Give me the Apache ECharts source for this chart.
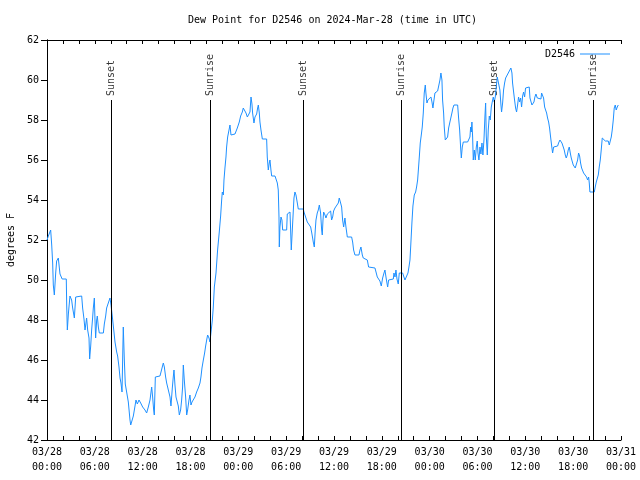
<!DOCTYPE html>
<html><head><meta charset="utf-8">
<script src="https://cdn.jsdelivr.net/npm/echarts@6/dist/echarts.min.js"></script>
<style>html,body{margin:0;padding:0;background:#fff}#c{width:640px;height:480px}</style>
</head><body><div id="c"></div>
<script>
// hours since 2024-03-28 00:00 UTC
const hours = [0,0.17,0.46,0.59,0.71,0.79,0.92,1.09,1.21,1.42,1.51,1.63,1.84,1.9,2.42,2.47,2.55,2.68,2.88,3.09,3.22,3.43,3.6,3.72,4.35,4.47,4.64,4.77,4.97,5.1,5.27,5.35,5.48,5.6,5.73,5.81,5.94,6.02,6.1,6.23,6.31,6.44,6.56,7.07,7.19,7.36,7.48,7.9,8.03,8.24,8.4,8.53,8.74,8.86,9.03,9.16,9.28,9.41,9.57,9.7,9.82,9.99,10.2,10.41,10.5,10.62,10.83,11.04,11.16,11.33,11.54,11.75,12.0,12.29,12.5,12.71,12.92,13.13,13.25,13.38,13.46,13.59,13.75,14.17,14.3,14.46,14.59,14.72,14.88,15.01,15.22,15.43,15.55,15.72,15.84,15.93,16.05,16.18,16.35,16.47,16.6,16.76,16.89,17.01,17.1,17.22,17.39,17.52,17.64,17.81,17.93,18.06,18.19,18.35,18.56,18.77,18.98,19.19,19.31,19.44,19.61,19.77,19.9,20.03,20.15,20.32,20.44,20.61,20.74,20.86,20.99,21.2,21.4,21.61,
21.78,21.91,21.99,22.12,22.2,22.32,22.45,22.53,22.66,22.83,22.95,23.08,23.24,23.58,23.7,23.87,24.12,24.29,24.5,24.62,24.83,24.96,25.13,25.25,25.46,25.59,25.71,25.79,25.96,26.09,26.3,26.42,26.51,26.63,26.71,26.84,27.01,27.55,27.63,27.76,27.88,27.97,28.09,28.18,28.6,28.72,28.89,29.01,29.1,29.14,29.22,29.35,29.47,29.56,30.06,30.14,30.27,30.48,30.56,30.64,30.81,30.98,31.1,31.23,31.4,31.52,32.15,
32.23,32.44,32.65,32.86,33.07,33.19,33.32,33.4,33.53,33.65,33.74,33.9,34.03,34.16,34.32,34.45,34.53,34.62,34.7,34.87,34.99,35.16,35.41,35.58,35.7,35.83,35.95,36.12,36.33,36.54,36.66,36.83,36.96,37.08,37.21,37.37,37.5,37.67,38.21,38.34,38.46,38.63,39.13,39.26,39.38,39.55,39.67,39.88,40.18,40.34,41.14,41.26,41.43,41.6,41.76,41.93,42.1,42.27,42.39,42.52,42.6,42.73,42.85,43.44,43.52,43.65,43.77,43.9,44.06,44.19,44.61,44.77,44.9,45.11,45.28,45.4,45.53,45.65,45.78,45.9,46.07,46.24,46.36,46.49,46.61,
46.7,46.82,46.95,47.07,47.2,47.32,47.45,47.53,47.66,47.78,47.91,48.16,48.29,48.41,48.54,48.66,48.79,49.0,49.21,49.29,49.41,49.54,49.62,49.75,49.83,49.96,50.13,50.25,50.38,50.54,50.67,50.79,50.92,51.05,51.51,51.63,51.76,51.88,51.97,52.09,52.22,52.76,52.88,53.05,53.14,53.22,53.3,53.39,53.47,53.6,53.72,53.85,53.97,54.06,54.18,54.31,
54.43,54.56,54.68,54.81,54.93,55.02,55.1,55.23,55.35,55.48,55.6,55.73,55.85,55.98,56.1,56.23,56.35,56.48,56.61,56.69,56.81,56.94,57.02,57.15,57.27,57.4,57.53,57.65,57.86,58.07,58.19,58.32,58.4,58.53,58.65,58.78,58.9,59.03,59.15,59.28,59.41,59.53,59.66,59.78,59.91,60.03,60.16,60.49,60.58,60.7,60.83,60.95,61.08,61.2,61.33,61.5,61.96,62.04,62.17,62.29,62.42,62.54,62.67,62.79,62.92,63.04,63.17,63.29,63.42,63.55,64.05,64.17,64.34,64.46,64.59,64.76,64.88,65.01,65.13,65.26,65.38,65.51,65.64,65.76,65.89,66.01,66.14,66.26,66.43,66.56,66.68,66.81,66.93,67.06,67.18,67.31,67.43,67.56,67.68,67.81,67.94,68.02,68.1,68.65,68.77,68.9,69.02,69.15,69.27,69.4,69.52,69.65,69.77,70.03,70.15,70.28,70.4,70.53,70.65,70.78,70.9,71.03,71.15,71.28,71.4,71.53,71.66];

const dewF = [52.0,52.2,52.5,51.75,50.85,49.75,49.25,50.35,50.95,51.1,50.75,50.3,50.3,50.05,50.05,48.75,47.5,48.3,49.2,49.0,48.6,48.1,49.15,49.2,49.2,48.6,48.05,47.5,48.1,47.5,47.1,46.05,46.7,47.5,48.15,48.6,49.1,48.0,47.1,48.0,48.2,47.65,47.35,47.35,47.8,48.2,48.6,49.1,48.75,48.0,47.4,46.9,46.4,46.2,45.65,45.1,44.85,44.4,47.65,46.0,44.8,44.4,43.9,43.0,42.75,42.75,43.2,43.7,44.0,43.8,44.0,43.85,43.65,43.5,43.35,43.65,44.0,44.65,44.15,43.5,43.25,45.15,45.2,45.2,45.4,45.65,45.85,45.65,45.15,44.85,44.5,44.15,43.7,44.6,45.15,45.5,44.75,44.15,44.15,43.7,43.25,43.5,44.0,44.65,45.75,45.0,44.15,43.25,43.5,44.0,44.25,43.75,43.9,44.0,44.15,44.4,44.6,44.85,45.15,45.6,46.0,46.35,46.7,47.0,47.25,47.1,46.9,46.9,48.0,48.65,49.65,50.35,51.5,52.4,
53.2,54.0,54.4,54.25,55.0,55.6,56.15,56.65,57.15,57.5,57.75,57.25,57.3,57.3,57.4,57.6,57.9,58.2,58.4,58.6,58.7,58.35,58.15,58.25,58.4,59.15,58.8,58.35,57.85,58.15,58.3,58.6,58.75,58.35,57.9,57.5,57.05,57.05,56.15,55.5,55.85,56.0,55.5,55.2,55.2,55.3,54.85,54.5,53.15,51.65,52.65,53.15,53.0,52.5,52.5,53.3,53.4,53.4,52.5,51.5,52.8,54.1,54.4,54.25,53.85,53.55,53.55,
53.4,53.15,52.9,52.85,52.65,52.4,52.1,51.9,51.65,52.5,53.0,53.35,53.5,53.75,53.35,52.5,52.25,53.0,53.4,53.25,53.1,53.3,53.4,53.45,53.0,53.15,53.45,53.6,53.65,53.85,54.1,53.85,53.65,53.0,52.65,53.1,52.65,52.15,52.15,51.9,51.5,51.25,51.25,51.5,51.65,51.25,51.1,51.05,51.0,50.65,50.6,50.5,50.15,50.05,49.95,49.7,50.1,50.35,50.5,50.15,49.95,49.65,50.0,50.05,50.35,50.15,50.5,50.05,49.8,50.35,50.35,50.15,50.0,50.05,50.35,50.65,51.0,51.9,52.9,53.7,54.25,54.4,54.65,55.0,55.65,
56.15,56.85,57.25,57.65,58.35,59.35,59.75,59.35,58.85,59.0,59.1,59.15,58.9,58.6,59.0,59.35,59.4,59.45,59.5,60.0,60.35,60.0,59.0,58.35,57.65,57.0,56.95,57.15,57.6,57.9,57.9,58.35,58.6,58.75,58.75,58.1,57.5,56.65,56.1,56.65,56.9,56.9,57.0,57.15,57.65,57.4,57.9,57.15,56.0,56.5,56.0,56.65,56.95,56.35,56.0,56.65,
56.3,56.85,56.25,57.0,58.15,58.85,57.2,56.25,57.5,58.2,58.0,58.65,58.9,59.15,58.9,59.15,59.65,60.15,60.25,60.15,59.5,58.75,58.4,58.85,59.5,59.85,60.1,60.15,60.35,60.4,60.6,60.35,59.85,59.4,59.0,58.6,58.4,58.75,59.15,58.9,59.1,58.65,59.2,59.4,59.15,59.6,59.65,59.65,59.1,59.0,58.75,58.65,58.9,59.15,59.3,59.1,59.05,59.35,59.4,59.1,58.65,58.5,58.35,58.1,57.9,57.6,57.15,56.75,56.35,56.65,56.7,56.85,57.0,57.05,56.85,56.65,56.5,56.25,56.1,56.25,56.5,56.65,56.35,56.1,56.0,55.75,55.65,55.6,55.5,56.0,56.35,56.2,55.85,55.6,55.65,55.35,55.25,55.4,55.15,55.0,55.15,54.85,54.4,54.4,54.65,54.9,55.0,55.25,55.65,56.0,56.5,57.1,57.0,56.95,57.0,57.05,56.95,56.75,56.95,57.15,57.5,58.0,58.6,58.75,58.5,58.65,58.75];

const eventHours = [8.03, 20.48, 32.15, 44.45, 56.1, 68.53];
const eventNames = ['Sunset', 'Sunrise', 'Sunset', 'Sunrise', 'Sunset', 'Sunrise'];
const xTickLabels = ['03/28\n00:00','03/28\n06:00','03/28\n12:00','03/28\n18:00','03/29\n00:00','03/29\n06:00','03/29\n12:00','03/29\n18:00','03/30\n00:00','03/30\n06:00','03/30\n12:00','03/30\n18:00','03/31\n00:00'];
const seriesName = 'D2546';
const titleText = 'Dew Point for D2546 on 2024-Mar-28 (time in UTC)';
const yAxisName = 'degrees F';

const FONT = 'DejaVu Sans Mono';
const txt = {fontFamily: FONT, fontSize: 10, color: '#000'};
const blk = {color: '#000', width: 1};

const chart = echarts.init(document.getElementById('c'), null, {renderer: 'canvas'});
chart.setOption({
  animation: false,
  backgroundColor: '#fff',
  title: {text: titleText, left: 183, top: 10, textStyle: Object.assign({fontWeight: 'normal'}, txt)},
  legend: {
    data: [{name: seriesName, icon: 'rect'}], right: 25, top: 44, align: 'right',
    itemWidth: 30, itemHeight: 1, textStyle: txt
  },
  grid: {left: 47, right: 19, top: 40, bottom: 40, containLabel: false, outerBoundsMode: 'none'},
  xAxis: [{
    type: 'value', min: 0, max: 72, interval: 2, position: 'bottom',
    axisLine: {show: true, lineStyle: blk},
    axisTick: {show: true, inside: true, length: 4, lineStyle: blk},
    axisLabel: Object.assign({
      margin: 5, lineHeight: 15, showMinLabel: true, showMaxLabel: true, hideOverlap: false,
      formatter: v => (Math.round(v) % 6 === 0 ? xTickLabels[Math.round(v) / 6] : '')
    }, txt),
    splitLine: {show: false}
  }, {
    type: 'value', min: 0, max: 72, interval: 2, position: 'top',
    axisLine: {show: true, lineStyle: blk},
    axisTick: {show: true, inside: true, length: 4, lineStyle: blk},
    axisLabel: {show: false}, splitLine: {show: false}
  }],
  yAxis: [{
    type: 'value', min: 42, max: 62, interval: 2, position: 'left',
    name: yAxisName, nameLocation: 'middle', nameGap: 31, nameRotate: 90,
    nameTextStyle: txt,
    axisLine: {show: true, lineStyle: blk},
    axisTick: {show: true, inside: false, length: 6, lineStyle: blk},
    axisLabel: Object.assign({margin: 8}, txt),
    splitLine: {show: false}
  }, {
    type: 'value', min: 42, max: 62, interval: 2, position: 'right',
    axisLine: {show: true, lineStyle: blk},
    axisTick: {show: true, inside: true, length: 4, lineStyle: blk},
    axisLabel: {show: false}, splitLine: {show: false}
  }],
  series: [{
    name: seriesName, type: 'line', symbol: 'none', showSymbol: false,
    data: hours.map((h, i) => [h, dewF[i]]),
    lineStyle: {color: '#1e90ff', width: 1}, itemStyle: {color: '#1e90ff'},
    z: 3
  }, {
    type: 'scatter', symbolSize: 0, silent: true,
    data: eventHours.map((h, i) => ({value: [h, 59], name: eventNames[i]})),
    label: Object.assign({
      show: true, formatter: p => p.name, position: 'top', distance: 4,
      rotate: 90, align: 'left', verticalAlign: 'middle'
    }, txt),
    markLine: {
      silent: true, symbol: ['none', 'none'], label: {show: false},
      lineStyle: {color: '#000', width: 1, type: 'solid'},
      emphasis: {disabled: true},
      data: eventHours.map(h => [{coord: [h, 42]}, {coord: [h, 59]}])
    },
    z: 2
  }]
});
</script></body></html>
